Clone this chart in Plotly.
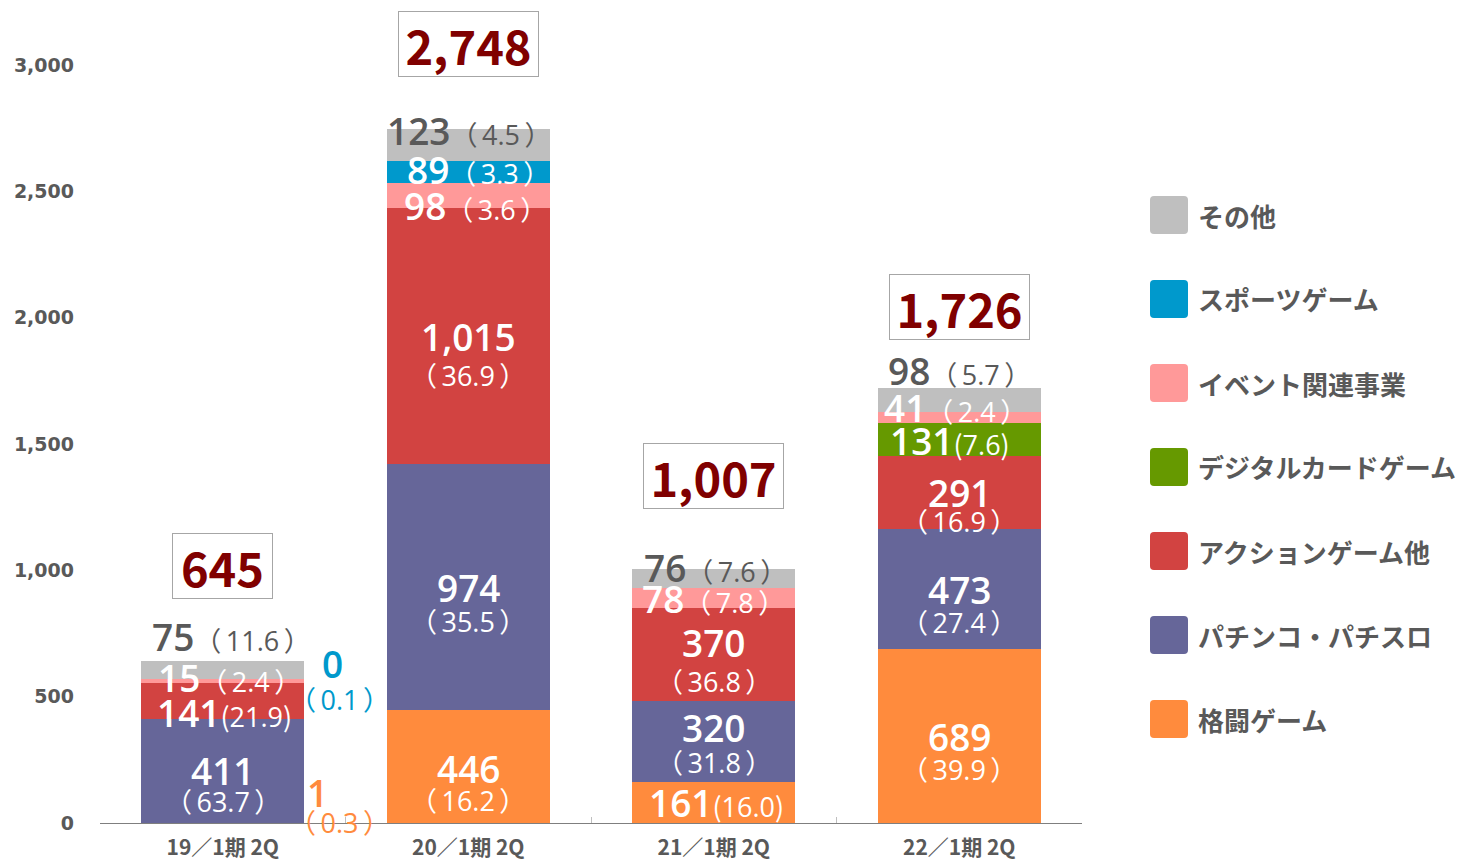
import plotly.graph_objects as go

# ---------------- data ----------------
categories = ["19／1期 2Q", "20／1期 2Q", "21／1期 2Q", "22／1期 2Q"]

# stack order bottom -> top
series_names = ["格闘ゲーム", "パチンコ・パチスロ", "アクションゲーム他",
                "デジタルカードゲーム", "イベント関連事業", "スポーツゲーム", "その他"]

fighting   = [1, 446, 161, 689]
pachinko   = [411, 974, 320, 473]
action     = [141, 1015, 370, 291]
digital    = [None, None, None, 131]
event      = [15, 98, 78, 41]
sports     = [0, 89, None, None]
others     = [75, 123, 76, 98]

fighting_pct = [0.3, 16.2, 16.0, 39.9]
pachinko_pct = [63.7, 35.5, 31.8, 27.4]
action_pct   = [21.9, 36.9, 36.8, 16.9]
digital_pct  = [None, None, None, 7.6]
event_pct    = [2.4, 3.6, 7.8, 2.4]
sports_pct   = [0.1, 3.3, None, None]
others_pct   = [11.6, 4.5, 7.6, 5.7]

totals = [645, 2748, 1007, 1726]

y_ticks = [0, 500, 1000, 1500, 2000, 2500, 3000]

# ---------------- style ----------------
colors = {
    "格闘ゲーム": "#FF8B3D",
    "パチンコ・パチスロ": "#666699",
    "アクションゲーム他": "#D24341",
    "デジタルカードゲーム": "#669900",
    "イベント関連事業": "#FF9999",
    "スポーツゲーム": "#0099CC",
    "その他": "#BFBFBF",
}
values = dict(zip(series_names, [fighting, pachinko, action, digital, event, sports, others]))
pcts = dict(zip(series_names, [fighting_pct, pachinko_pct, action_pct, digital_pct,
                               event_pct, sports_pct, others_pct]))

CJK = "Noto Sans CJK JP"
NUMFONT = "Open Sans, Noto Sans CJK JP"
NUM_WEIGHT = 600
GRAY_TXT = "#595959"
NUM_SIZE = 37
PCT_SIZE = 27
TS = "\u2009"  # thin space


def pct_span(p, tight=False):
    if tight:
        inner = f"<span style='font-family:{CJK}'>(</span>{p:.1f}<span style='font-family:{CJK}'>)</span>"
    else:
        inner = f"（{TS}{p:.1f}{TS}）"
    return f"<span style='font-size:{PCT_SIZE}px;font-weight:400'>{inner}</span>"


# label placement (kind, dx, dy[, dx_pct, dy_pct]) in px, dy positive = downward
label_layout = {
    ("格闘ゲーム", 0): ("side", 95, -30, 117, 0),
    ("パチンコ・パチスロ", 0): ("two", 0, 0, 0, 31),
    ("アクションゲーム他", 0): ("tight", 2, 11),
    ("イベント関連事業", 0): ("one", 7, -4),
    ("スポーツゲーム", 0): ("side", 110, -16, 117, 20),
    ("その他", 0): ("top", 9, -24),

    ("格闘ゲーム", 1): ("two", 0, 2, 0, 34),
    ("パチンコ・パチスロ", 1): ("two", 0, 0, 0, 34),
    ("アクションゲーム他", 1): ("two", 0, 1, 0, 40),
    ("イベント関連事業", 1): ("one", 7, 10),
    ("スポーツゲーム", 1): ("one", 10, -2),
    ("その他", 1): ("top", 1, 1),

    ("格闘ゲーム", 2): ("tight", 3, 0),
    ("パチンコ・パチスロ", 2): ("two", 0, -14, 0, 21),
    ("アクションゲーム他", 2): ("two", 0, -12, 0, 27),
    ("イベント関連事業", 2): ("one", 0, 0),
    ("その他", 2): ("top", 2, -2),

    ("格闘ゲーム", 3): ("two", 0, 1, 0, 34),
    ("パチンコ・パチスロ", 3): ("two", 0, 0, 0, 33),
    ("アクションゲーム他", 3): ("two", 0, 0, 0, 29),
    ("デジタルカードゲーム", 3): ("tight", -9, 1),
    ("イベント関連事業", 3): ("one", -4, -10),
    ("その他", 3): ("top", 0, -17),
}
total_dy = [-94, -85, -93, -80]

# ---------------- figure ----------------
# page body has an 8px margin: figure coords = screen coords - 8
OFF = 8
W, H = 1460, 855
ML, MT = 100 - OFF, 10 - OFF
MR = W - (1082 - OFF)
MB = H - (823 - OFF)
PX_PER_UNIT = 758 / 3000
y_top = (H - MB - MT) / PX_PER_UNIT

fig = go.Figure()
for name in series_names:
    fig.add_trace(go.Bar(
        x=categories, y=values[name], name=name,
        marker=dict(color=colors[name], line=dict(width=0)),
        showlegend=False, hoverinfo="skip",
    ))

annotations = []
bases = [0, 0, 0, 0]
for name in series_names:
    for i, v in enumerate(values[name]):
        if v is None:
            continue
        p = pcts[name][i]
        spec = label_layout.get((name, i))
        base = bases[i]
        center = base + v / 2
        top = base + v
        bases[i] = top
        if spec is None:
            continue
        kind = spec[0]
        num_txt = f"{v:,}"
        if kind in ("two", "side"):
            _, dx, dy, dxp, dyp = spec
            c = "white" if kind == "two" else colors[name]
            annotations.append(dict(x=categories[i], y=center, text=num_txt, showarrow=False,
                                    xshift=dx, yshift=-dy,
                                    font=dict(family=NUMFONT, size=NUM_SIZE, color=c,
                                              weight=NUM_WEIGHT)))
            annotations.append(dict(x=categories[i], y=center, text=pct_span(p), showarrow=False,
                                    xshift=dxp, yshift=-dyp,
                                    font=dict(family=NUMFONT, size=PCT_SIZE, color=c,
                                              weight=400)))
        else:
            _, dx, dy = spec
            ref = top if kind == "top" else center
            col = GRAY_TXT if kind == "top" else "white"
            annotations.append(dict(
                x=categories[i], y=ref, showarrow=False, xshift=dx, yshift=-dy,
                text=num_txt + pct_span(p, tight=(kind == "tight")),
                font=dict(family=NUMFONT, size=NUM_SIZE, color=col, weight=NUM_WEIGHT)))

for i, t in enumerate(totals):
    annotations.append(dict(
        x=categories[i], y=t, text=f"{t:,}", showarrow=False, yshift=-total_dy[i],
        font=dict(family=CJK, size=47, color="#800000", weight="bold"),
        bordercolor="#A6A6A6", borderwidth=1, borderpad=0, bgcolor="white",
        width=(99 if t < 1000 else 139), height=64,
    ))


# manual legend (positions in screen pixels)
def px2paper(px, py):
    fx, fy = px - OFF, py - OFF
    return (fx - ML) / (W - ML - MR), (H - MB - fy) / (H - MT - MB)


def rounded_rect(x0, y0, x1, y1, r):
    ax0, ay0 = px2paper(x0, y0)
    ax1, ay1 = px2paper(x1, y1)
    rx = px2paper(x0 + r, y0)[0] - ax0
    ry = ay0 - px2paper(x0, y0 + r)[1]
    return (f"M {ax0+rx},{ay0} L {ax1-rx},{ay0} Q {ax1},{ay0} {ax1},{ay0-ry} "
            f"L {ax1},{ay1+ry} Q {ax1},{ay1} {ax1-rx},{ay1} L {ax0+rx},{ay1} "
            f"Q {ax0},{ay1} {ax0},{ay1+ry} L {ax0},{ay0-ry} Q {ax0},{ay0} {ax0+rx},{ay0} Z")


shapes = []
legend_order = list(reversed(series_names))
for k, name in enumerate(legend_order):
    cy = 215 + k * 84
    shapes.append(dict(type="path", xref="paper", yref="paper",
                       path=rounded_rect(1150, cy - 19, 1188, cy + 19, 4),
                       fillcolor=colors[name], line=dict(width=0)))
    tx, ty = px2paper(1196, cy)
    annotations.append(dict(xref="paper", yref="paper", x=tx, y=ty, text=name, showarrow=False,
                            xanchor="left", yanchor="middle",
                            font=dict(family=CJK, size=26, color=GRAY_TXT, weight="bold")))

fig.update_layout(
    width=W, height=H,
    margin=dict(l=ML, r=MR, t=MT, b=MB),
    barmode="stack", bargap=0.336,
    plot_bgcolor="white", paper_bgcolor="white",
    annotations=annotations, shapes=shapes,
    showlegend=False,
    xaxis=dict(showline=True, linecolor="#7F7F7F", linewidth=1, automargin=False,
               ticks="inside", tickson="boundaries", ticklen=6, tickcolor="#BFBFBF",
               showgrid=False,
               tickfont=dict(family=CJK, size=21, color=GRAY_TXT, weight="bold"),
               ticklabelstandoff=6),
    yaxis=dict(range=[0, y_top], tickvals=y_ticks, tickformat=",d", automargin=False,
               showgrid=False, zeroline=False, showline=False, ticks="",
               tickfont=dict(family="DejaVu Sans", size=19, color=GRAY_TXT, weight="bold"),
               ticklabelstandoff=25),
)

fig.write_html("out.html")
